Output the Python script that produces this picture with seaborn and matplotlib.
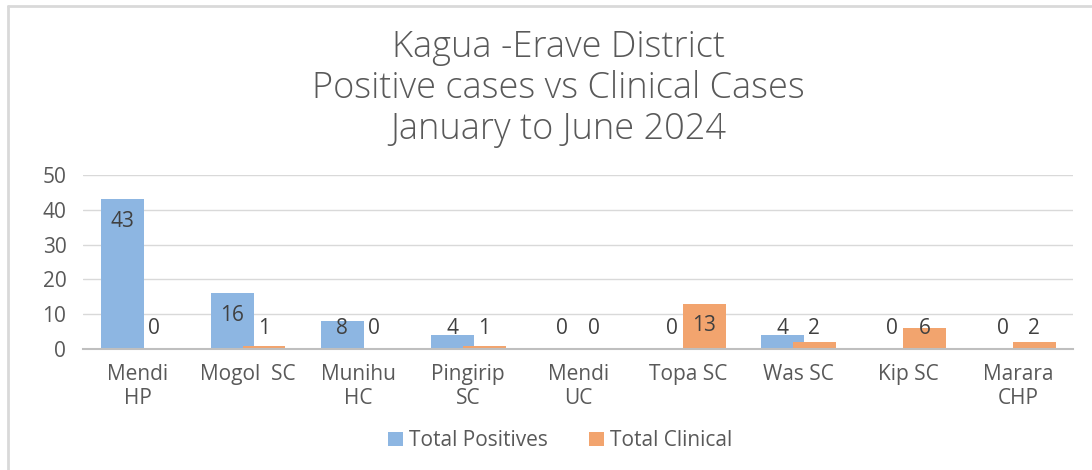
import numpy as np
import pandas as pd
import seaborn as sns
import matplotlib
matplotlib.use("Agg")
import matplotlib.pyplot as plt
from matplotlib.lines import Line2D

# Facilities and counts, January to June 2024
facilities = ["Mendi\nHP", "Mogol  SC", "Munihu\nHC", "Pingirip\nSC", "Mendi\nUC",
              "Topa SC", "Was SC", "Kip SC", "Marara\nCHP"]
total_positives = [43, 16, 8, 4, 0, 0, 4, 0, 0]
total_clinical = [0, 1, 0, 1, 0, 13, 2, 6, 2]
series_names = ["Total Positives", "Total Clinical"]
y_ticks = [0, 10, 20, 30, 40, 50]

colors = ["#8DB6E2", "#F2A46E"]
text_grey = "#595959"

sns.set_theme(style="white")
plt.rcParams["font.family"] = ["Open Sans", "DejaVu Sans"]

df = pd.DataFrame({
    "Facility": facilities * 2,
    "Series": [series_names[0]] * len(facilities) + [series_names[1]] * len(facilities),
    "Cases": total_positives + total_clinical,
})

fig = plt.figure(figsize=(10.92, 4.70), dpi=100)
ax = fig.add_axes([0.076, 0.2574, 0.907, 0.370])

sns.barplot(data=df, x="Facility", y="Cases", hue="Series", order=facilities,
            hue_order=series_names, palette=colors, width=0.78, saturation=1,
            errorbar=None, linewidth=0, ax=ax, zorder=2)

n_bars = 2 * len(facilities)

# Excel-style slight overlap of the two series
for bar in ax.patches[:n_bars]:
    cx = bar.get_x() + bar.get_width() / 2
    cat = round(cx)
    shift = -0.05 if cx > cat else 0.05
    bar.set_x(bar.get_x() + shift)

# Data labels (inside end, clamped above the axis for short bars)
for bar in ax.patches[:n_bars]:
    h = bar.get_height()
    cx = bar.get_x() + bar.get_width() / 2
    ypos = max(h - 6.3, 6.0)
    ax.text(cx, ypos, f"{int(h)}", ha="center", va="center", fontsize=15,
            color="#404040", zorder=3)

ax.set_xlim(-0.5, len(facilities) - 0.5)
ax.set_ylim(0, 50)
ax.set_yticks(y_ticks)
ax.set_yticklabels([str(t) for t in y_ticks])
ax.yaxis.grid(True, color="#D9D9D9", linewidth=1.0, zorder=0)
ax.set_axisbelow(True)
for side in ["top", "right", "left"]:
    ax.spines[side].set_visible(False)
ax.spines["bottom"].set_color("#BFBFBF")
ax.spines["bottom"].set_linewidth(1.5)
ax.tick_params(axis="x", length=0, pad=11, labelsize=15, labelcolor=text_grey)
ax.tick_params(axis="y", length=0, pad=12, labelsize=15, labelcolor=text_grey)
ax.set_xlabel("")
ax.set_ylabel("")

handles, labels = ax.get_legend_handles_labels()
ax.legend(handles, labels, loc="center", bbox_to_anchor=(0.513, 0.062),
          bbox_transform=fig.transFigure, ncol=2, frameon=False, fontsize=15,
          handlelength=0.7, handleheight=0.7, handletextpad=0.3,
          columnspacing=2.0, labelcolor=text_grey)

title_lines = ["Kagua -Erave District", "Positive cases vs Clinical Cases",
               "January to June 2024"]
for k, line in enumerate(title_lines):
    fig.text(0.511, 0.900 - k * 0.088, line, ha="center", va="center",
             fontsize=26, color=text_grey, fontweight="light")

# chart frame: only top and left edges visible in the reference crop
fig.add_artist(Line2D([8 / 1092, 1.0], [1 - 6 / 470, 1 - 6 / 470],
                      transform=fig.transFigure, color="#D9D9D9", linewidth=2))
fig.add_artist(Line2D([8 / 1092, 8 / 1092], [0.0, 1 - 6 / 470],
                      transform=fig.transFigure, color="#D9D9D9", linewidth=2))

fig.savefig("out.png", dpi=100)
